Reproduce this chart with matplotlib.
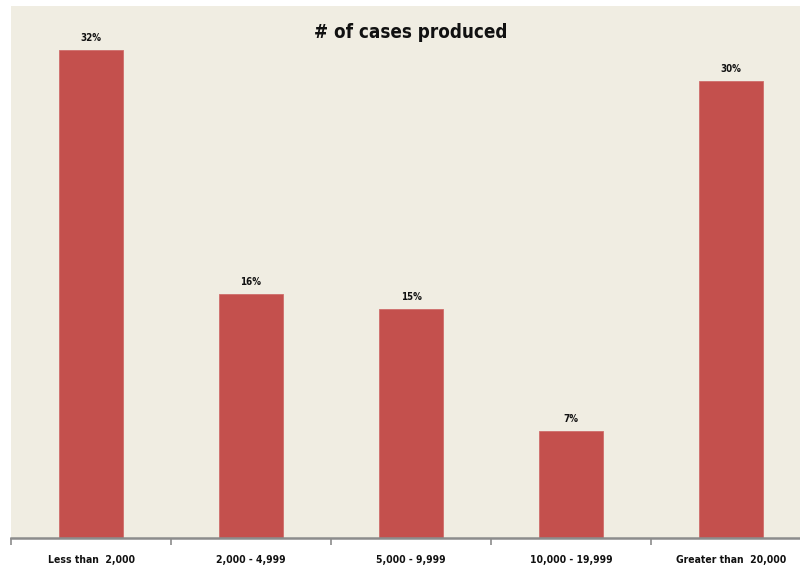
import matplotlib
matplotlib.use("Agg")
import matplotlib.pyplot as plt

categories = ["Less than  2,000", "2,000 - 4,999", "5,000 - 9,999",
              "10,000 - 19,999", "Greater than  20,000"]
shares = [32, 16, 15, 7, 30]
value_labels = ["32%", "16%", "15%", "7%", "30%"]
title = "# of cases produced"

fig = plt.figure(figsize=(8.0, 5.69), dpi=100, facecolor="white")
ax = fig.add_axes([11 / 800, 31 / 569, 800 / 800, 532 / 569])
ax.set_facecolor("#F0EDE2")

x = list(range(len(categories)))
ax.bar(x, shares, width=0.4, color="#C4504D", edgecolor="#CF6E6B", linewidth=0.6, zorder=2)

for xi, v, lab in zip(x, shares, value_labels):
    ax.annotate(lab, (xi, v), xytext=(0, 5), textcoords="offset points",
                ha="center", va="bottom", fontsize=7, fontweight="bold",
                family="DejaVu Sans", stretch="condensed", color="#111111")

ax.set_xlim(-0.5, 4.5)
ax.set_ylim(0, 34.9)
ax.set_yticks([])
for s in ("top", "right", "left"):
    ax.spines[s].set_visible(False)
ax.spines["bottom"].set_color("#8C8C8C")
ax.spines["bottom"].set_linewidth(1.8)

ax.set_xticks([i - 0.5 for i in range(len(categories) + 1)], minor=False)
ax.set_xticklabels([])
ax.tick_params(axis="x", which="major", direction="out", length=5, width=1.2, color="#8C8C8C")
ax.set_xticks(x, minor=True)
ax.set_xticklabels(categories, minor=True, fontsize=7.5, fontweight="bold",
                   family="DejaVu Sans", stretch="condensed", color="#111111")
ax.tick_params(axis="x", which="minor", length=0, pad=12)

fig.text(411 / 800, 1 - 33 / 569, title, ha="center", va="center",
         fontsize=13.5, fontweight="bold", family="DejaVu Sans", stretch="condensed",
         color="#111111")

fig.savefig("out.png", dpi=100, facecolor="white")
